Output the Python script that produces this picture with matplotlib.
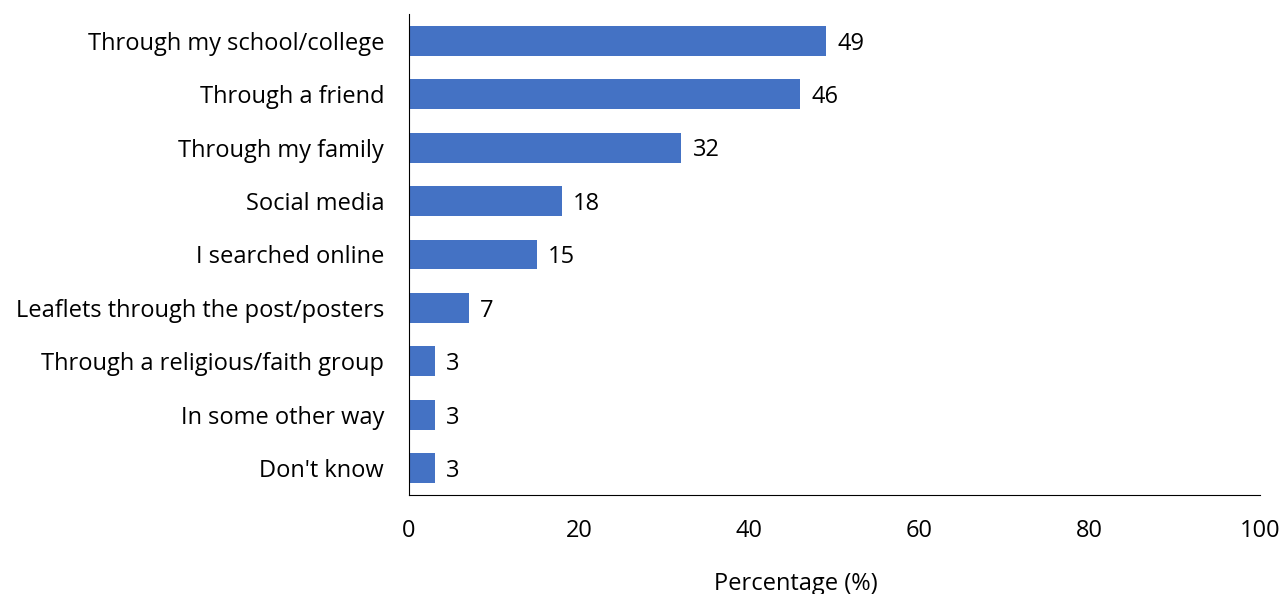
import matplotlib.pyplot as plt
import numpy as np

plt.rcParams['font.family'] = ['Open Sans', 'DejaVu Sans']

# Data
sources = [
    "Through my school/college",
    "Through a friend",
    "Through my family",
    "Social media",
    "I searched online",
    "Leaflets through the post/posters",
    "Through a religious/faith group",
    "In some other way",
    "Don't know",
]
percent = [49, 46, 32, 18, 15, 7, 3, 3, 3]

y = np.arange(len(sources))

fig = plt.figure(figsize=(12.81, 5.94), dpi=100)
ax = fig.add_axes([0.3193, 0.1667, 0.6643, 0.8097])

bars = ax.barh(y, percent, height=0.56, color='#4472C4')

ax.set_xlim(0, 100)
ax.set_ylim(len(sources) - 0.5, -0.5)
ax.set_yticks(y)
ax.set_yticklabels(sources, fontsize=17)
ax.set_xticks(np.arange(0, 101, 20))
ax.tick_params(axis='x', labelsize=17, length=0, pad=17)
ax.tick_params(axis='y', length=0, pad=18)
ax.set_xlabel('Percentage (%)', fontsize=17, labelpad=20)
ax.xaxis.set_label_coords(0.455, -0.16)

for s in ['top', 'right']:
    ax.spines[s].set_visible(False)
for s in ['left', 'bottom']:
    ax.spines[s].set_color('#000000')
    ax.spines[s].set_linewidth(0.8)

# value labels next to each bar
for rect in bars:
    w = rect.get_width()
    ax.annotate('{}'.format(w),
                xy=(w, rect.get_y() + rect.get_height() / 2),
                xytext=(8, -2), textcoords='offset points',
                ha='left', va='center', fontsize=17)

fig.savefig('out.png', dpi=100)
